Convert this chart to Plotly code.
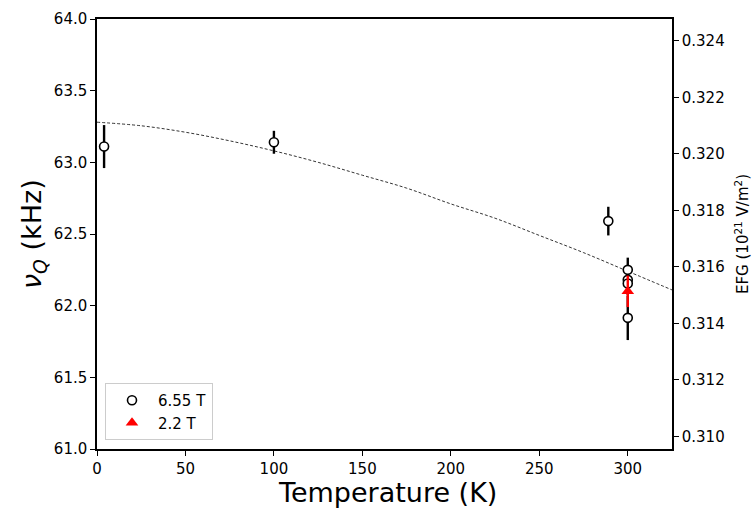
import plotly.graph_objects as go

# Quadrupole frequency measured at 6.55 T
temp_655 = [4, 100, 289, 300, 300, 300, 300]
nuq_655 = [63.11, 63.14, 62.59, 62.25, 62.18, 62.155, 61.915]
err_655 = [0.15, 0.08, 0.10, 0.085, 0.08, 0.08, 0.155]

# Quadrupole frequency measured at 2.2 T
temp_22 = [300]
nuq_22 = [62.10]
err_22 = [0.11]

# Fitted temperature dependence (dashed curve)
fit_temp = [0, 25, 50, 75, 100, 125, 150, 175, 200, 225, 250, 275, 300, 325]
fit_nuq = [63.28, 63.255, 63.21, 63.15, 63.08, 63.00, 62.91, 62.82, 62.71,
           62.61, 62.49, 62.37, 62.24, 62.11]

# Conversion factor between nu_Q (kHz) and EFG (1e21 V/m^2)
nuq_per_efg = 197.06
nuq_range = [61.0, 64.0]
efg_ticks = [0.310, 0.312, 0.314, 0.316, 0.318, 0.320, 0.322, 0.324]

FONT = "DejaVu Sans"
W, H = 753, 509
ML, MR, MT, MB = 97, 81, 19, 60
PW, PH = W - ML - MR, H - MT - MB

fig = go.Figure()

fig.add_trace(go.Scatter(
    x=fit_temp, y=fit_nuq, mode="lines", line_shape="spline",
    line=dict(color="black", width=0.8, dash="3px,2px"),
    showlegend=False, hoverinfo="skip",
))

fig.add_trace(go.Scatter(
    x=temp_655, y=nuq_655, mode="markers", name="6.55 T",
    marker=dict(symbol="circle", size=9, color="white",
                line=dict(color="black", width=1.6)),
    error_y=dict(type="data", array=err_655, visible=True,
                 color="black", thickness=2.4, width=0),
))

fig.add_trace(go.Scatter(
    x=temp_22, y=nuq_22, mode="markers", name="2.2 T",
    marker=dict(symbol="triangle-up", size=11, color="red",
                line=dict(color="red", width=0)),
    error_y=dict(type="data", array=err_22, visible=True,
                 color="red", thickness=2.4, width=0),
))

# Invisible trace that carries the EFG axis
fig.add_trace(go.Scatter(
    x=[fit_temp[0]], y=[fit_nuq[0] / nuq_per_efg], yaxis="y2",
    mode="markers", marker=dict(opacity=0), showlegend=False, hoverinfo="skip",
))

axis_common = dict(
    showgrid=False, zeroline=False, showline=True, linecolor="black",
    linewidth=1.5, ticks="outside", ticklen=5, tickwidth=1.2, tickcolor="black",
    tickfont=dict(family=FONT, size=15, color="black"), automargin=False,
)

fig.update_layout(
    width=W, height=H,
    margin=dict(l=ML, r=MR, t=MT, b=MB, autoexpand=False),
    paper_bgcolor="white", plot_bgcolor="white",
    font=dict(family=FONT, color="black"),
    xaxis=dict(
        **axis_common, range=[0, 325], tickvals=[0, 50, 100, 150, 200, 250, 300],
        mirror=True,
    ),
    yaxis=dict(
        **axis_common, range=nuq_range,
        tickvals=[61.0, 61.5, 62.0, 62.5, 63.0, 63.5, 64.0], tickformat=".1f",
    ),
    yaxis2=dict(
        **axis_common, overlaying="y", side="right",
        range=[nuq_range[0] / nuq_per_efg, nuq_range[1] / nuq_per_efg],
        tickvals=efg_ticks, tickformat=".3f",
    ),
    legend=dict(
        x=8 / PW, y=9 / PH, xanchor="left", yanchor="bottom",
        bgcolor="white", bordercolor="#cccccc", borderwidth=1,
        font=dict(family=FONT, size=15, color="black"),
        itemwidth=42, tracegroupgap=2,
    ),
    annotations=[
        dict(text="Temperature (K)", xref="paper", yref="paper",
             x=(387 - ML) / PW, y=-(493 - (MT + PH)) / PH,
             xanchor="center", yanchor="middle", showarrow=False,
             font=dict(family=FONT, size=27, color="black")),
        dict(text="<i>ν</i><sub><i>Q</i></sub> (kHz)", xref="paper", yref="paper",
             x=-(ML - 33) / PW, y=0.5, textangle=-90,
             xanchor="center", yanchor="middle", showarrow=False,
             font=dict(family=FONT, size=27, color="black")),
        dict(text="EFG (10<sup>21</sup> V/m<sup>2</sup>)", xref="paper", yref="paper",
             x=1 + (742 - (ML + PW)) / PW, y=0.5, textangle=-90,
             xanchor="center", yanchor="middle", showarrow=False,
             font=dict(family=FONT, size=15, color="black")),
    ],
)

fig.write_html("out.html")
